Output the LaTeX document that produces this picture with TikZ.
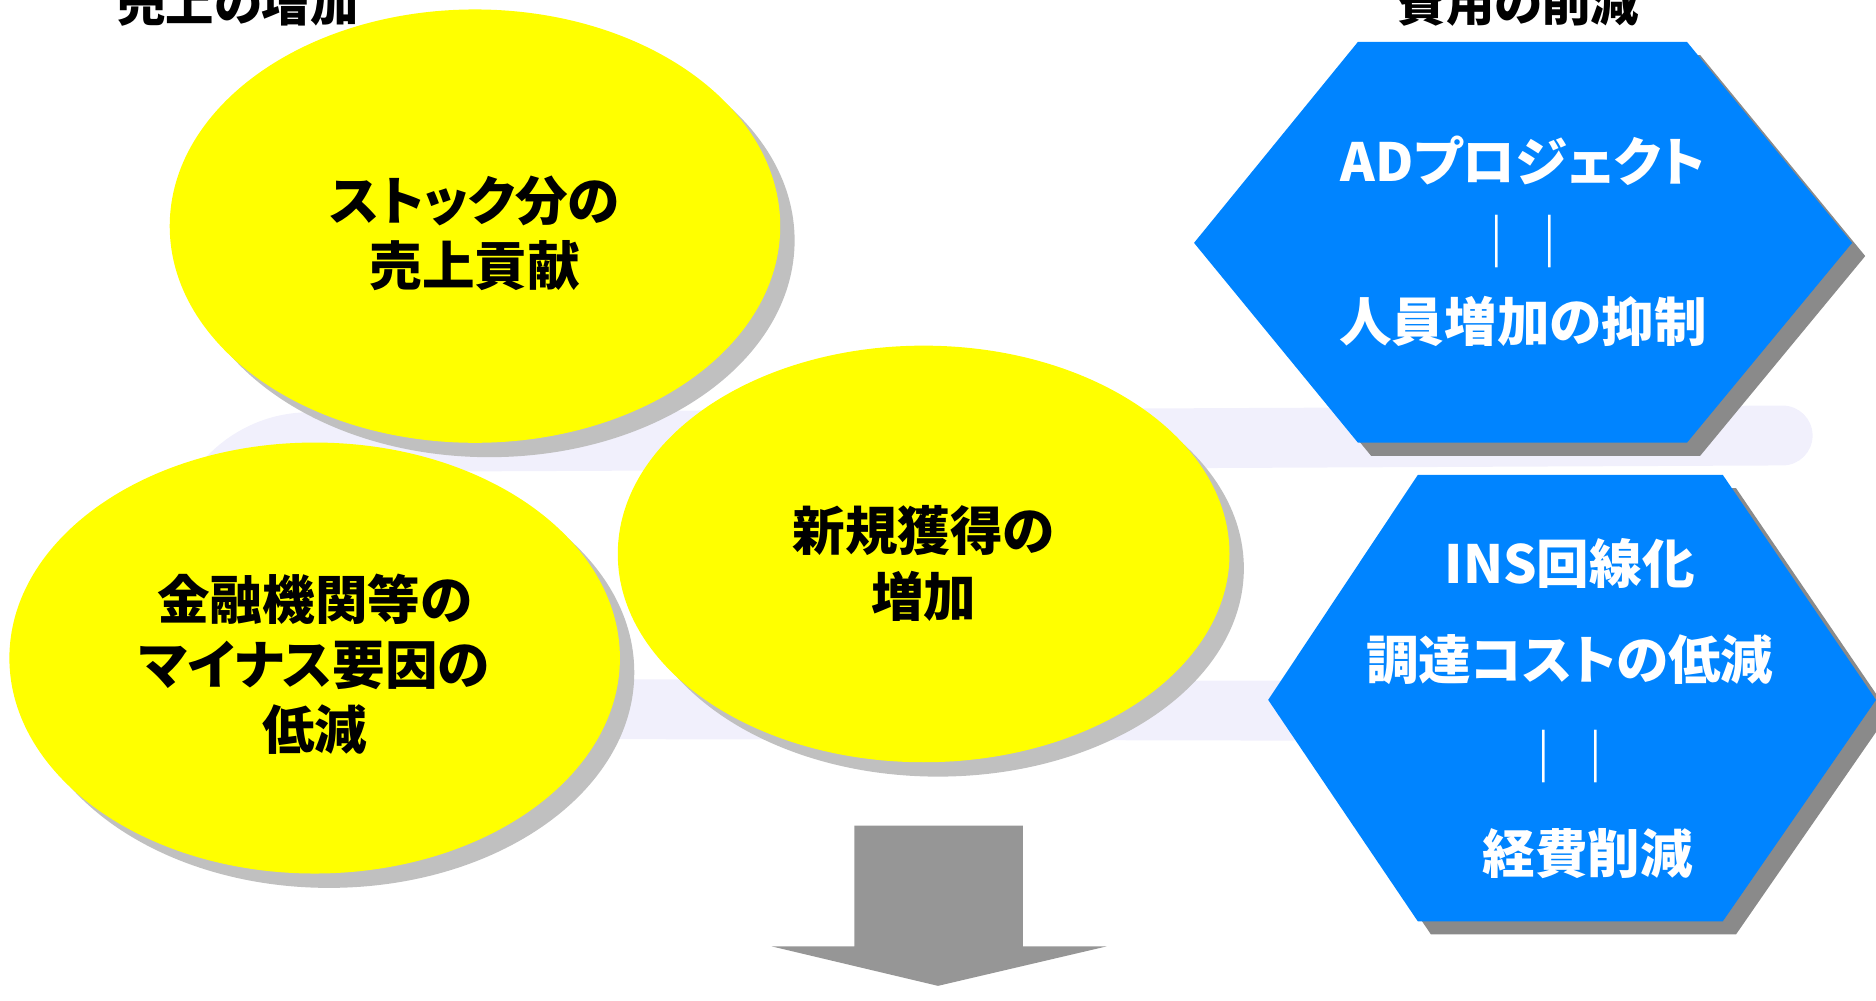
\documentclass[tikz,border=0pt]{standalone}
\usepackage{fontspec}
\newfontfamily\jpfont{Noto Sans CJK JP}[RawFeature=+palt]
\usetikzlibrary{shapes.geometric,shadows}

\definecolor{sunyellow}{HTML}{FFFF00}
\definecolor{skyblue}{HTML}{0084FF}
\definecolor{paleshade}{HTML}{C0C0C0}
\definecolor{darkshade}{HTML}{8A8A8A}
\definecolor{arrowgray}{HTML}{969696}
\definecolor{watermark}{HTML}{F1F0FC}

\begin{document}
\begin{tikzpicture}[x=0.01cm, y=-0.01cm,
    idea/.style={ellipse, fill=sunyellow, inner sep=0pt,
        drop shadow={shadow xshift=0.12cm, shadow yshift=-0.12cm, fill=paleshade, opacity=1}},
    ideatext/.style={align=center, font=\jpfont\bfseries\fontsize{12.5}{15.5}\selectfont},
    hexfill/.style={fill=skyblue,
        drop shadow={shadow xshift=0.11cm, shadow yshift=-0.11cm, fill=darkshade, opacity=1}},
    hextext/.style={text=white, align=center},
    heading/.style={font=\jpfont\bfseries\fontsize{11.5}{14}\selectfont}]

    \useasboundingbox (0,0) rectangle (1568,836);

    % faint logo behind everything
    \draw[watermark, line width=0.5cm, rounded corners=0.9cm, line cap=round]
        (1490,364) -- (168,370) -- (160,592) -- (1080,594);

    % titles
    \node[heading] (salesttl) at (199,3) {売上の増加};
    \node[heading] (costttl) at (1269,3) {費用の削減};

    % sales side
    \node[idea, minimum width=5.10cm, minimum height=3.62cm] (stock) at (397,189) {};
    \node[ideatext] (stocktxt) at ([yshift=-0.06cm]stock.center) {ストック分の\\売上貢献};
    \node[idea, minimum width=5.10cm, minimum height=3.60cm] (minus) at (263,550) {};
    \node[ideatext] (minustxt) at ([yshift=-0.05cm]minus.center) {金融機関等の\\マイナス要因の\\低減};
    \node[idea, minimum width=5.11cm, minimum height=3.48cm] (newbiz) at (772,463) {};
    \node[ideatext] (newbiztxt) at ([yshift=-0.08cm]newbiz.center) {新規獲得の\\増加};

    % cost side
    \path[hexfill] (998,203) -- (1135,35) -- (1410,35) -- (1548,203) -- (1410,370) -- (1135,370) -- cycle;
    \node[hextext, font=\jpfont\bfseries\fontsize{12.5}{19}\selectfont] (adproj) at (1273,202)
        {ADプロジェクト\\｜｜\\人員増加の抑制};

    \path[hexfill] (1060,585) -- (1185,397) -- (1440,397) -- (1568,585) -- (1440,770) -- (1185,770) -- cycle;
    \node[hextext, font=\jpfont\bfseries\fontsize{12.5}{23}\selectfont] (insline) at (1312,592)
        {INS回線化\\調達コストの低減\\｜｜\\\hspace*{0.3cm}経費削減};

    % down arrow
    \fill[arrowgray] (714,690) -- (855,690) -- (855,791) -- (925,791) -- (784,824)
        -- (645,791) -- (714,791) -- cycle;

\end{tikzpicture}
\end{document}
